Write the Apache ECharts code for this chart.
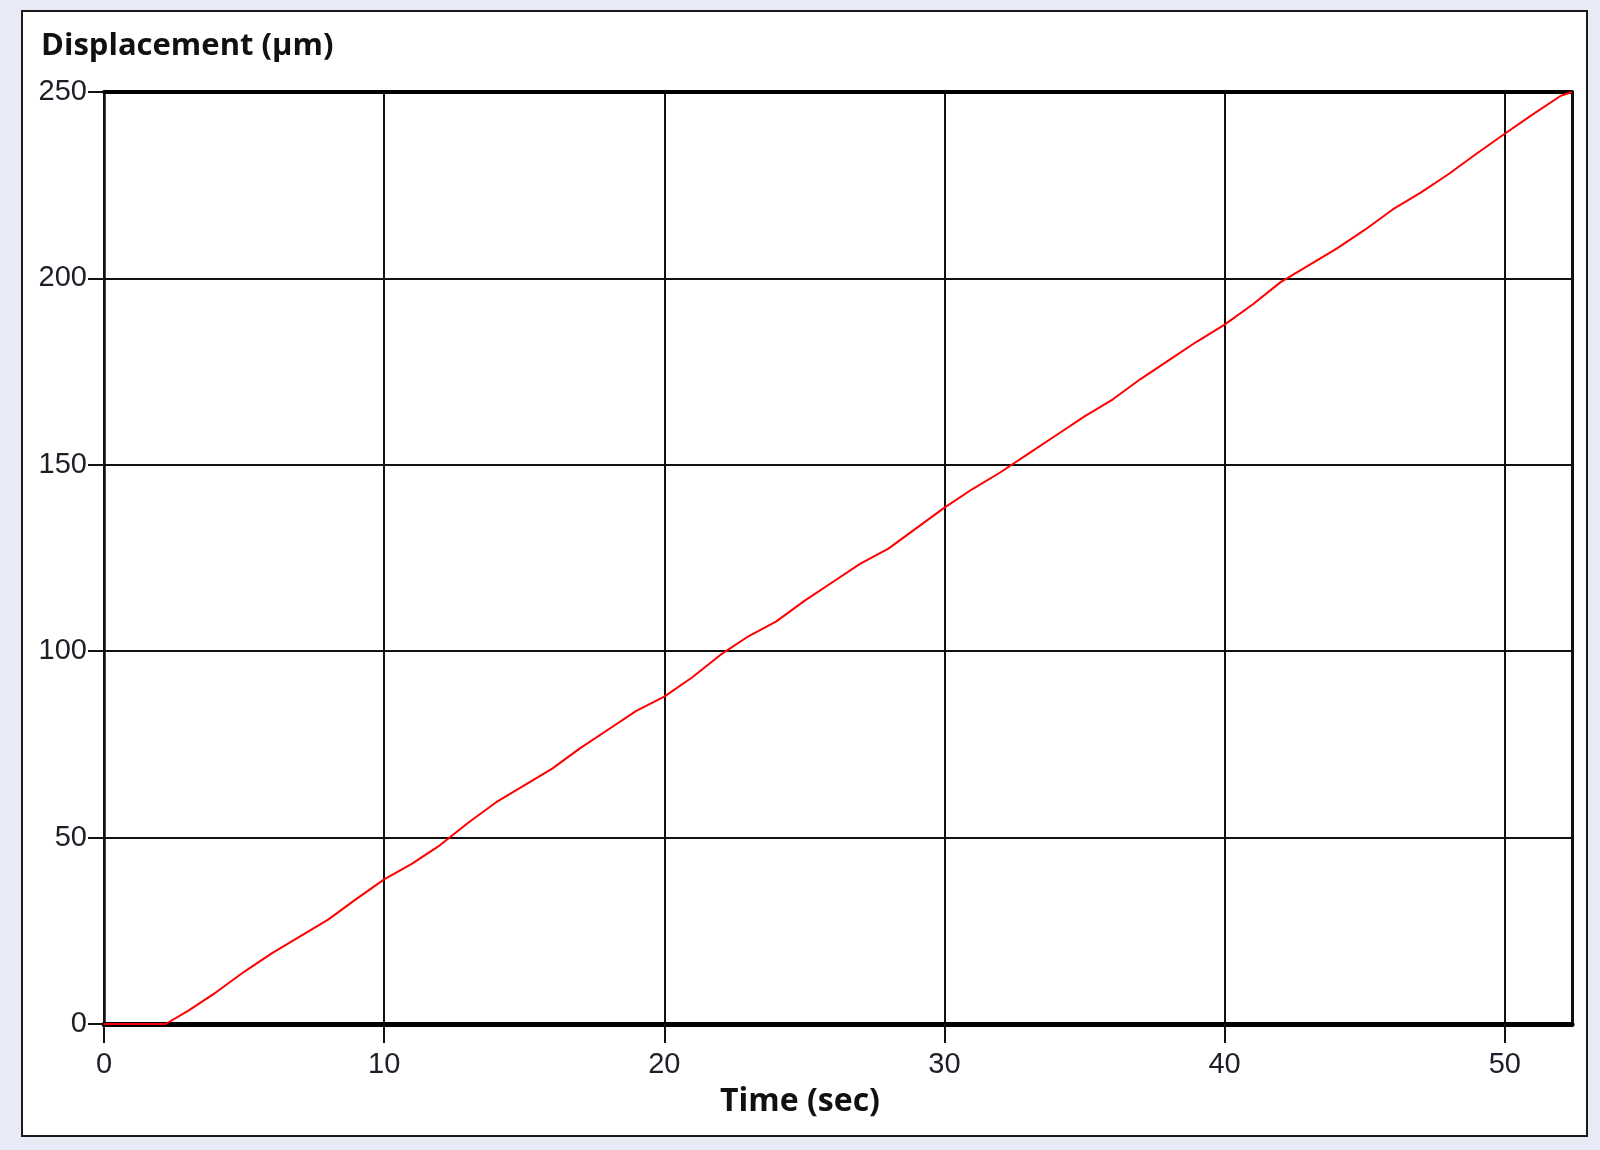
<!DOCTYPE html>
<html>
<head>
<meta charset="utf-8">
<style>
html,body{margin:0;padding:0;background:#E8EAF6;}
#chart{width:1600px;height:1150px;}
</style>
<script src="https://cdn.jsdelivr.net/npm/echarts@6/dist/echarts.min.js"></script>
</head>
<body>
<div id="chart"></div>
<script>
// Data
const timeSec = [0, 2.2, 3, 4, 5, 6, 7, 8, 9, 10, 11, 12, 13, 14, 15, 16, 17, 18, 19, 20,
  21, 22, 23, 24, 25, 26, 27, 28, 29, 30, 31, 32, 33, 34, 35, 36, 37, 38, 39, 40,
  41, 42, 43, 44, 45, 46, 47, 48, 49, 50, 51, 52, 52.4];
const displacementUm = [0, 0, 3.5, 8.5, 14, 19, 23.5, 28, 33.5, 38.8, 43, 48, 54, 59.5, 64, 68.5, 74, 79, 84, 87.8,
  93, 99, 104, 108, 113.5, 118.5, 123.5, 127.5, 133, 138.5, 143.5, 148, 153, 158, 163, 167.5, 173, 178, 183, 187.6,
  193, 199, 203.5, 208, 213, 218.5, 223, 228, 233.5, 238.8, 244, 249, 250];
const xTicks = [0, 10, 20, 30, 40, 50];
const xMax = 52.4;
const yMax = 250;
const yTitle = 'Displacement (µm)';
const xTitle = 'Time (sec)';

const points = timeSec.map((t, i) => [t, displacementUm[i]]);
const chart = echarts.init(document.getElementById('chart'), null, {renderer: 'canvas'});
const labelFont = {color: '#1e1e28', fontFamily: 'Liberation Sans', fontSize: 29};
chart.setOption({
  backgroundColor: '#E8EAF6',
  animation: false,
  graphic: [{
    type: 'rect', z: -10, silent: true,
    shape: {x: 22, y: 11, width: 1565, height: 1125},
    style: {fill: '#ffffff', stroke: '#1a1a1a', lineWidth: 2}
  }],
  title: [
    {text: yTitle, left: 41, top: 31, padding: 0,
     textStyle: {fontFamily: 'Open Sans', fontWeight: 'bold', fontSize: 31, color: '#111'}},
    {text: xTitle, left: 'center', top: 1086, padding: 0,
     textStyle: {fontFamily: 'Open Sans', fontWeight: 'bold', fontSize: 32, color: '#111'}}
  ],
  grid: {left: 104, top: 92, right: 28, bottom: 126, show: false},
  xAxis: [{
    type: 'value', min: 0, max: xMax, interval: 10, position: 'bottom',
    axisLine: {show: true, onZero: false, lineStyle: {color: '#000', width: 5}},
    axisTick: {show: true, length: 19, lineStyle: {color: '#111', width: 2}, customValues: xTicks},
    axisLabel: {margin: 26, customValues: xTicks, ...labelFont},
    splitLine: {show: true, lineStyle: {color: '#111', width: 2}}
  }, {
    type: 'value', min: 0, max: xMax, position: 'top',
    axisLine: {show: true, onZero: false, lineStyle: {color: '#000', width: 4}},
    axisTick: {show: false}, axisLabel: {show: false}, splitLine: {show: false}
  }],
  yAxis: [{
    type: 'value', min: 0, max: yMax, interval: 50, position: 'left',
    axisLine: {show: true, onZero: false, lineStyle: {color: '#111', width: 2.5}},
    axisTick: {show: true, length: 16, lineStyle: {color: '#111', width: 2}},
    axisLabel: {margin: 17, ...labelFont},
    splitLine: {show: true, lineStyle: {color: '#111', width: 2}}
  }, {
    type: 'value', min: 0, max: yMax, position: 'right',
    axisLine: {show: true, onZero: false, lineStyle: {color: '#111', width: 3}},
    axisTick: {show: false}, axisLabel: {show: false}, splitLine: {show: false}
  }],
  series: [{
    type: 'line', data: points, xAxisIndex: 0, yAxisIndex: 0,
    showSymbol: false, symbol: 'none', z: 5,
    lineStyle: {color: '#ff0000', width: 2}
  }]
});
</script>
</body>
</html>
